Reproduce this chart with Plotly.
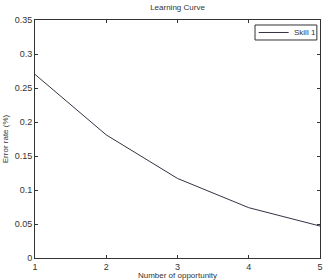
import plotly.graph_objects as go

opportunity = [1, 2, 3, 4, 5]
error_rate = [0.270, 0.181, 0.117, 0.074, 0.047]
series_name = "Skill 1"

line_color = "#333344"
fig = go.Figure()
fig.add_trace(go.Scatter(x=opportunity, y=error_rate, mode="lines", name=series_name,
                         line=dict(color=line_color, width=1)))

axis_common = dict(showline=True, linecolor="#333", linewidth=1, mirror="ticks",
                   ticks="inside", ticklen=3, tickcolor="#333", showgrid=False, zeroline=False,
                   automargin=False,
                   tickfont=dict(size=9, color="#333", family="Liberation Sans"))
fig.update_xaxes(range=[1, 5], tickvals=[1, 2, 3, 4, 5],
                 title=dict(text="Number of opportunity", font=dict(size=8, color="#333", family="Liberation Sans"), standoff=10),
                 **axis_common)
fig.update_yaxes(range=[0, 0.35], tickvals=[0, 0.05, 0.1, 0.15, 0.2, 0.25, 0.3, 0.35],
                 ticktext=["0", "0.05", "0.1", "0.15", "0.2", "0.25", "0.3", "0.35"],
                 title=dict(text="Error rate (%)", font=dict(size=8, color="#333", family="Liberation Sans"), standoff=4),
                 **axis_common)

# compact legend box (MATLAB-style)
fig.add_shape(type="rect", xref="paper", yref="paper", x0=0.772, x1=0.989, y0=0.916, y1=0.979,
              line=dict(color="#333", width=1), fillcolor="white", layer="above")
fig.add_shape(type="line", xref="paper", yref="paper", x0=0.785, x1=0.89, y0=0.9475, y1=0.9475,
              line=dict(color=line_color, width=1), layer="above")
fig.add_annotation(xref="paper", yref="paper", x=0.9, y=0.9475, xanchor="left", yanchor="middle",
                   text=series_name, showarrow=False,
                   font=dict(size=8, color="#333", family="Liberation Sans"))

fig.update_layout(
    width=324, height=280, margin=dict(l=35, r=4, t=20, b=22),
    paper_bgcolor="white", plot_bgcolor="white",
    title=dict(text="Learning Curve", x=0.5, xref="paper", y=0.985, yanchor="top",
               font=dict(size=8, color="#333", family="Liberation Sans")),
    showlegend=False,
)
fig.write_html("out.html")
